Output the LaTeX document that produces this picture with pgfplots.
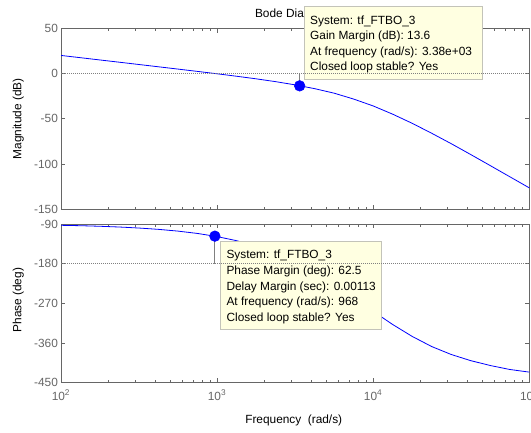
\documentclass[border=0pt]{standalone}
\usepackage{pgfplots}
\pgfplotsset{compat=1.18}
\usepackage{fontspec}
\setmainfont{Liberation Sans}
\definecolor{axgray}{RGB}{102,102,102}
\definecolor{tipfill}{RGB}{255,255,225}
\definecolor{tipdraw}{RGB}{195,195,185}
\definecolor{refgray}{RGB}{128,128,128}
\definecolor{mblue}{RGB}{0,0,255}
\newcommand{\tipfont}{\fontsize{8.9}{10.7}\selectfont}
\begin{document}
\begin{tikzpicture}[font=\tipfont]
\useasboundingbox (0,0) rectangle (398.25pt,324pt);
\clip (0,0) rectangle (398.25pt,324pt);
% ---------------- Magnitude ----------------
\begin{axis}[
  xmode=log, xmin=100, xmax=100000,
  scale only axis, anchor=south west,
  width=351.2pt, height=135.75pt, at={(45.75pt,167.03pt)},
  axis line style={axgray, line width=0.6pt},
  every tick/.style={axgray, line width=0.6pt},
  major tick length=3.2pt, minor tick length=2pt,
  tick align=inside,
  tick label style={font=\tipfont, text=axgray},
  yticklabel style={xshift=1.2pt},
  label style={font=\tipfont, text=black},
  clip mode=individual,
  xtick={100,1000,10000,100000},
  minor xtick={200,300,400,500,600,700,800,900,2000,3000,4000,5000,6000,7000,8000,9000,20000,30000,40000,50000,60000,70000,80000,90000},
  ymin=-150, ymax=50, ytick={-150,-100,-50,0,50}, yticklabels={-150,-100,-50,0,50},
  xticklabels={},
  ylabel={Magnitude (dB)},
  every axis y label/.style={at={(rel axis cs:-0.0912,0.5)}, rotate=90, anchor=center},
]
\addplot[mblue, line width=0.6pt] coordinates {
(100,20.0) (133.35,17.50) (177.83,14.99) (237.14,12.49) (316.23,9.97)
(421.70,7.45) (562.34,4.91) (749.89,2.35) (1000,-0.27) (1333.5,-2.98)
(1778.3,-5.84) (2371.4,-8.96) (3162.3,-12.52) (4217.0,-16.7) (5623.4,-21.7)
(7498.9,-28.2) (10000,-35.8) (13335,-44.9) (17783,-55.0) (23714,-66.0)
(31623,-77.5) (42170,-89.5) (56234,-101.7) (74989,-114.0) (100000,-126.3)
};
\addplot[refgray, line width=0.6pt] coordinates {(3380,0) (3380,-13.6)};
\node[anchor=base, inner sep=0pt, text=black] at (rel axis cs:0.4954,1.0597) {Bode Diagram};
\draw[fill=tipfill, draw=tipdraw, line width=0.5pt] (rel axis cs:0.5195,1.1232) rectangle (rel axis cs:0.9005,0.7182);
\node[anchor=base west, inner sep=0pt] at (rel axis cs:0.5317,1.0182) {System: tf\_FTBO\_3};
\node[anchor=base west, inner sep=0pt] at (rel axis cs:0.5317,0.9354) {Gain Margin (dB): 13.6};
\node[anchor=base west, inner sep=0pt] at (rel axis cs:0.5317,0.8508) {At frequency (rad/s): 3.38e+03};
\node[anchor=base west, inner sep=0pt] at (rel axis cs:0.5317,0.7657) {Closed loop stable? Yes};
\addplot[refgray, densely dotted, line width=0.5pt] coordinates {(100,0) (100000,0)};
\addplot[only marks, mark=*, mark size=4pt, mblue, mark options={draw=mblue, fill=mblue}] coordinates {(3380,-13.6)};
\end{axis}
% ---------------- Phase ----------------
\begin{axis}[
  xmode=log, xmin=100, xmax=100000,
  scale only axis, anchor=south west,
  width=351.2pt, height=119.0pt, at={(45.75pt,36.98pt)},
  axis line style={axgray, line width=0.6pt},
  every tick/.style={axgray, line width=0.6pt},
  major tick length=3.2pt, minor tick length=2pt,
  tick align=inside,
  tick label style={font=\tipfont, text=axgray},
  yticklabel style={xshift=1.2pt},
  label style={font=\tipfont, text=black},
  clip mode=individual,
  xtick={100,1000,10000,100000},
  minor xtick={200,300,400,500,600,700,800,900,2000,3000,4000,5000,6000,7000,8000,9000,20000,30000,40000,50000,60000,70000,80000,90000},
  ymin=-450, ymax=-90, ytick={-450,-360,-270,-180,-90}, yticklabels={-450,-360,-270,-180,-90},
  xticklabels={10\textsuperscript{2},10\textsuperscript{3},10\textsuperscript{4},10\textsuperscript{5}},
  xticklabel style={yshift=-2pt},
  ylabel={Phase (deg)},
  every axis y label/.style={at={(rel axis cs:-0.0912,0.52)}, rotate=90, anchor=center},
  xlabel={Frequency\ \ (rad/s)},
  every axis x label/.style={at={(rel axis cs:0.497,-0.2394)}, anchor=center},
]
\addplot[mblue, line width=0.6pt] coordinates {
(100,-92.9) (133.35,-93.8) (177.83,-95.1) (237.14,-96.8) (316.23,-99.1)
(421.70,-102.1) (562.34,-106.1) (749.89,-111.4) (1000,-118.5) (1333.5,-127.8)
(1778.3,-140.1) (2371.4,-156.0) (3162.3,-176.3) (4217.0,-200.0) (5623.4,-227.0)
(7498.9,-257.0) (10000,-288.0) (13335,-318.0) (17783,-345.0) (23714,-368.0)
(31623,-386.0) (42170,-400.0) (56234,-411.0) (74989,-420.0) (100000,-426.0)
};
\addplot[refgray, line width=0.6pt] coordinates {(968,-180) (968,-117.5)};
\draw[fill=tipfill, draw=tipdraw, line width=0.5pt] (rel axis cs:0.3395,0.8885) rectangle (rel axis cs:0.6848,0.3365);
\node[anchor=base west, inner sep=0pt] at (rel axis cs:0.3530,0.7839) {System: tf\_FTBO\_3};
\node[anchor=base west, inner sep=0pt] at (rel axis cs:0.3530,0.6849) {Phase Margin (deg): 62.5};
\node[anchor=base west, inner sep=0pt] at (rel axis cs:0.3530,0.5841) {Delay Margin (sec): 0.00113};
\node[anchor=base west, inner sep=0pt] at (rel axis cs:0.3530,0.4852) {At frequency (rad/s): 968};
\node[anchor=base west, inner sep=0pt] at (rel axis cs:0.3530,0.3888) {Closed loop stable? Yes};
\addplot[refgray, densely dotted, line width=0.5pt] coordinates {(100,-180) (100000,-180)};
\addplot[only marks, mark=*, mark size=4pt, mblue, mark options={draw=mblue, fill=mblue}] coordinates {(968,-117.5)};
\end{axis}
\end{tikzpicture}
\end{document}
